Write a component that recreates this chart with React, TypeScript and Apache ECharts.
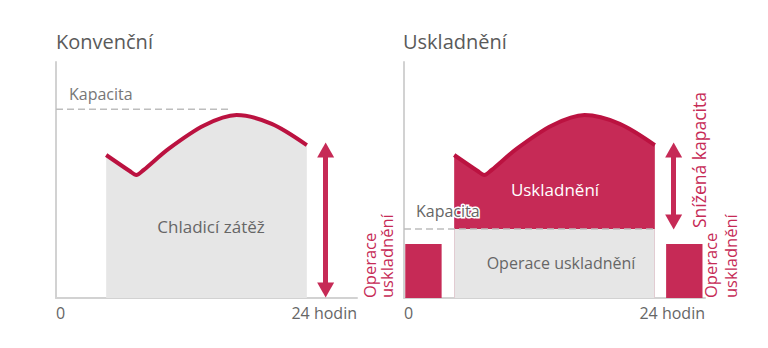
import React, { useEffect, useRef } from "react";
import * as echarts from "echarts";

// Time of day (hours) and cooling load (% of plot height)
const hours = [4, 5.9, 6.4, 7.0, 9, 11.8, 14.4, 17.2, 20];
const load = [60.6, 53.7, 52.1, 54.3, 63.3, 73.1, 77.5, 73.8, 64.8];

const capacityConventional = 80;
const capacityStorage = 29.2;
const capacityConvEnd = 14;
const storageBlocks = [
  [0.1, 3.0, 22.9],
  [20.9, 23.8, 22.9],
];
const arrowConv = [62.7, 3.4];
const arrowStorage = [62.7, 32.2];
const arrowX = 21.5;
const xTicks = ["0", "24 hodin"];
const titles = ["Konvenční", "Uskladnění"];

const RED_LINE = "#bb1240";
const RED_FILL = "#c62a56";
const GRAY_FILL = "#e6e6e6";
const AXIS = "#d2d2d2";
const TEXT = "#666666";
const FONT = "Open Sans";

export default function App() {
  const ref = useRef<HTMLDivElement>(null);
  useEffect(() => {
    if (!ref.current) return;
    const chart = echarts.init(ref.current, null, { renderer: "svg" });
    const curve = hours.map((h, i) => [h, load[i]]);
    const grids = [
      { left: 56, top: 62, width: 301, height: 236 },
      { left: 404, top: 62, width: 301, height: 236 },
    ];
    const xAxis = grids.map((_, i) => ({
      type: "value",
      gridIndex: i,
      min: 0,
      max: 24,
      interval: 24,
      axisLine: { show: true, lineStyle: { color: AXIS, width: 2 } },
      axisTick: { show: false },
      splitLine: { show: false },
      axisLabel: {
        margin: 7,
        color: TEXT,
        fontSize: 16,
        fontFamily: FONT,
        alignMinLabel: "left",
        alignMaxLabel: "right",
        formatter: (v: number) => (v === 0 ? xTicks[0] : xTicks[1]),
      },
    }));
    const yAxis = grids.map((_, i) => ({
      type: "value",
      gridIndex: i,
      min: 0,
      max: 100,
      axisLine: { show: true, lineStyle: { color: AXIS, width: 2 } },
      axisTick: { show: false },
      splitLine: { show: false },
      axisLabel: { show: false },
    }));

    const arrowLine = (x: number, ys: number[]) => ({
      silent: true,
      symbol: ["triangle", "triangle"],
      symbolSize: [17, 15],
      label: { show: false },
      lineStyle: { color: RED_FILL, width: 5, type: "solid" },
      data: [[{ coord: [x, ys[0]] }, { coord: [x, ys[1]] }]],
    });

    const series: any[] = [
      // Conventional
      {
        type: "line",
        xAxisIndex: 0,
        yAxisIndex: 0,
        data: curve,
        smooth: 0.3,
        showSymbol: false,
        lineStyle: { color: RED_LINE, width: 4 },
        areaStyle: { color: GRAY_FILL, opacity: 1 },
        z: 2,
      },
      {
        type: "line",
        xAxisIndex: 0,
        yAxisIndex: 0,
        data: [
          [0, capacityConventional],
          [capacityConvEnd, capacityConventional],
        ],
        showSymbol: false,
        lineStyle: { color: "#bdbdbd", width: 1.5, type: [7, 4] },
        markLine: arrowLine(arrowX, arrowConv),
        z: 3,
      },
      // Storage
      {
        type: "line",
        xAxisIndex: 1,
        yAxisIndex: 1,
        data: curve,
        smooth: 0.3,
        showSymbol: false,
        lineStyle: { color: RED_LINE, width: 4 },
        areaStyle: { color: RED_FILL, opacity: 1 },
        z: 2,
      },
      {
        type: "line",
        xAxisIndex: 1,
        yAxisIndex: 1,
        data: [
          [hours[0], capacityStorage],
          [hours[hours.length - 1], capacityStorage],
        ],
        showSymbol: false,
        lineStyle: { width: 0 },
        areaStyle: { color: GRAY_FILL, opacity: 1 },
        z: 3,
      },
      {
        type: "custom",
        xAxisIndex: 1,
        yAxisIndex: 1,
        data: storageBlocks,
        renderItem: (params: any, api: any) => {
          const p0 = api.coord([api.value(0), api.value(2)]);
          const p1 = api.coord([api.value(1), 0]);
          return {
            type: "rect",
            shape: { x: p0[0], y: p0[1], width: p1[0] - p0[0], height: p1[1] - p0[1] },
            style: { fill: RED_FILL },
          };
        },
        z: 3,
      },
      {
        type: "line",
        xAxisIndex: 1,
        yAxisIndex: 1,
        data: [
          [0, capacityStorage],
          [hours[hours.length - 1], capacityStorage],
        ],
        showSymbol: false,
        lineStyle: { color: "#bdbdbd", width: 1.5, type: [7, 4] },
        markLine: arrowLine(arrowX, arrowStorage),
        z: 4,
      },
    ];

    const txt = (text: string, x: number, y: number, extra: any = {}, rot = 0) => ({
      type: "text",
      x,
      y,
      rotation: rot,
      z: 100,
      style: {
        text,
        fill: TEXT,
        fontSize: 16,
        fontFamily: FONT,
        align: "left",
        verticalAlign: "middle",
        ...extra,
      },
    });

    chart.setOption({
      animation: false,
      grid: grids,
      xAxis,
      yAxis,
      series,
      graphic: [
        txt(titles[0], 56, 41, { fontSize: 20, fill: "#5a5a5a" }),
        txt(titles[1], 403, 41, { fontSize: 20, fill: "#5a5a5a" }),
        txt("Kapacita", 69, 94, { fill: "#777" }),
        txt("Chladicí zátěž", 211, 226, { align: "center", fontSize: 17 }),
        txt("Uskladnění", 555, 189, { align: "center", fill: "#fff", fontSize: 17 }),
        txt("Operace uskladnění", 561, 263, { align: "center", fontSize: 16 }),
        txt("Kapacita", 416, 211, { stroke: "#fff", lineWidth: 3 }),
        txt("Operace\nuskladnění", 378, 298, { fill: RED_FILL, fontSize: 16.5, lineHeight: 17 }, Math.PI / 2),
        txt("Operace\nuskladnění", 720, 298, { fill: RED_FILL, fontSize: 16.5, lineHeight: 20 }, Math.PI / 2),
        txt("Snížená kapacita", 699, 228, { fill: RED_FILL, fontSize: 17.5 }, Math.PI / 2),
      ],
    });
    return () => chart.dispose();
  }, []);
  return (
    <div
      ref={ref}
      style={{ position: "fixed", left: 0, top: 0, width: 768, height: 348, background: "#fff" }}
    />
  );
}
